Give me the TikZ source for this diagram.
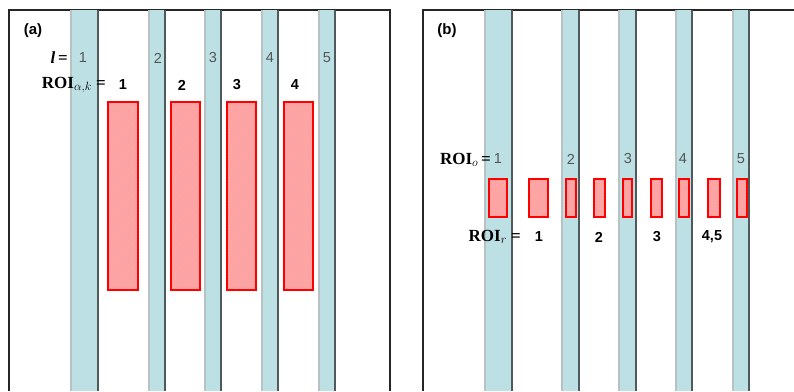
\documentclass[tikz,border=0pt]{standalone}
\usepackage{fontspec}
\setmainfont{Liberation Serif}
\setsansfont{Liberation Sans}
\usetikzlibrary{patterns}
\definecolor{stripc}{HTML}{BCE0E3}
\definecolor{stripdark}{HTML}{4F5A5C}
\definecolor{striplight}{HTML}{B8C2C3}
\definecolor{numgrey}{HTML}{555555}
\tikzset{
  panelline/.style={line width=2pt, black!85},
  greynum/.style={font=\sffamily\fontsize{14.5}{14.5}\selectfont, text=numgrey, inner sep=0pt},
  boldnum/.style={font=\sffamily\bfseries\fontsize{14.5}{14.5}\selectfont, inner sep=0pt},
  lbl/.style={font=\bfseries\fontsize{17}{17}\selectfont, inner sep=0pt},
  plbl/.style={font=\sffamily\bfseries\fontsize{15}{15}\selectfont, inner sep=0pt},
}
\newcommand{\vstrip}[2]{%
  \fill[stripc] (#1,10) rectangle (#2,391);
  \draw[striplight, line width=1.2pt] (#1,10) -- (#1,391);
  \draw[stripdark, line width=1.6pt] (#2,10) -- (#2,391);
}
\newcommand{\roirect}[4]{%
  \fill[red!38] (#1,#2) rectangle (#3,#4);
  \fill[pattern=north east lines, pattern color=white!70!red] (#1,#2) rectangle (#3,#4);
  \draw[red, line width=1.5pt] (#1,#2) rectangle (#3,#4);
}
\begin{document}
\begin{tikzpicture}[x=1pt,y=-1pt]
\useasboundingbox (0,0) rectangle (794,391);
\fill[white] (0,0) rectangle (794,391);
% panel frames
\draw[panelline] (9,391) -- (9,10) -- (390,10) -- (390,391);
\draw[panelline] (423,391) -- (423,10) -- (794,10);
% strips panel (a)
\vstrip{71}{98}
\vstrip{149}{165}
\vstrip{205}{221}
\vstrip{262}{278}
\vstrip{319}{335}
% strips panel (b)
\vstrip{485}{512}
\vstrip{562}{579}
\vstrip{619}{636}
\vstrip{676}{692}
\vstrip{733}{749}
% ROI rectangles (a)
\roirect{108}{102}{138}{290}
\roirect{171}{102}{200}{290}
\roirect{227}{102}{256}{290}
\roirect{284}{102}{313}{290}
% ROI rectangles (b)
\roirect{489}{179}{507}{217}
\roirect{529}{179}{548}{217}
\roirect{566}{179}{576}{217}
\roirect{594}{179}{605}{217}
\roirect{623}{179}{632}{217}
\roirect{651}{179}{662}{217}
\roirect{679}{179}{689}{217}
\roirect{708}{179}{720}{217}
\roirect{737}{179}{747}{217}
% labels panel (a)
\node[plbl] (pa) at (33,31) {(a)};
\node[lbl, anchor=east] (la) at (68,58) {\textit{l}\,=};
\node[greynum] (a1) at (83,58) {1};
\node[greynum] (a2) at (158,58) {2};
\node[greynum] (a3) at (213,58) {3};
\node[greynum] (a4) at (270,58) {4};
\node[greynum] (a5) at (327,58) {5};
\node[lbl, anchor=east] (roiak) at (106,85) {ROI$_{\alpha,k}$ =};
\node[boldnum] (k1) at (123,85) {1};
\node[boldnum] (k2) at (182,85) {2};
\node[boldnum] (k3) at (237,85) {3};
\node[boldnum] (k4) at (295,85) {4};
% labels panel (b)
\node[plbl] (pb) at (447,31) {(b)};
\node[lbl, anchor=east] (roio) at (491,160) {ROI$_{o}$\,=};
\node[greynum] (b1) at (498,159) {1};
\node[greynum] (b2) at (571,159) {2};
\node[greynum] (b3) at (628,159) {3};
\node[greynum] (b4) at (683,159) {4};
\node[greynum] (b5) at (741,159) {5};
\node[lbl, anchor=east] (roir) at (521,237) {ROI$_{r}$ =};
\node[boldnum] (r1) at (539,237) {1};
\node[boldnum] (r2) at (599,237) {2};
\node[boldnum] (r3) at (657,237) {3};
\node[boldnum] (r4) at (712,237) {4,5};
\end{tikzpicture}
\end{document}
